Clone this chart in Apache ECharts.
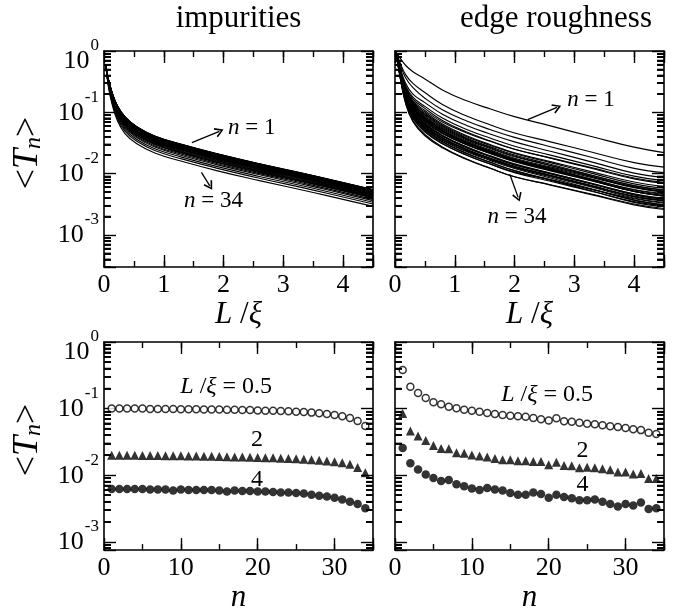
<!DOCTYPE html>
<html>
<head>
<meta charset="utf-8">
<script src="https://cdn.jsdelivr.net/npm/echarts@6/dist/echarts.min.js"></script>
<style>
  html, body { margin: 0; padding: 0; background: #fff; }
  #chart { width: 696px; height: 614px; }
</style>
</head>
<body>
<div id="chart"></div>
<script>
// ---- length grid of the transmission curves (L / xi) ----
const impL = [0.03, 0.07, 0.13, 0.22, 0.35, 0.55, 0.85, 1.3, 1.9, 2.6, 3.5, 4.5];
const roughL = [0.02, 0.08, 0.18, 0.3, 0.5, 0.8, 1.2, 1.6, 2.0, 2.6, 3.3, 4.0, 4.5];

// <T_n>(L) for the impurity wire, one row per channel n = 1 ... 34
const impT = [
  [0.600, 0.360, 0.220, 0.130, 0.0850, 0.0580, 0.0410, 0.0300, 0.0210, 0.0145, 0.00930, 0.00550],
  [0.600, 0.358, 0.218, 0.129, 0.0842, 0.0574, 0.0406, 0.0297, 0.0208, 0.0144, 0.00920, 0.00545],
  [0.600, 0.358, 0.218, 0.129, 0.0841, 0.0575, 0.0405, 0.0297, 0.0208, 0.0143, 0.00920, 0.00544],
  [0.600, 0.356, 0.217, 0.128, 0.0833, 0.0568, 0.0402, 0.0294, 0.0206, 0.0142, 0.00910, 0.00539],
  [0.600, 0.356, 0.217, 0.128, 0.0834, 0.0569, 0.0401, 0.0294, 0.0205, 0.0142, 0.00910, 0.00540],
  [0.600, 0.355, 0.215, 0.127, 0.0825, 0.0563, 0.0398, 0.0291, 0.0204, 0.0141, 0.00900, 0.00534],
  [0.600, 0.354, 0.215, 0.126, 0.0824, 0.0562, 0.0398, 0.0291, 0.0203, 0.0141, 0.00900, 0.00533],
  [0.600, 0.353, 0.213, 0.125, 0.0816, 0.0557, 0.0394, 0.0288, 0.0202, 0.0139, 0.00890, 0.00528],
  [0.600, 0.351, 0.212, 0.124, 0.0808, 0.0551, 0.0390, 0.0285, 0.0200, 0.0138, 0.00884, 0.00523],
  [0.600, 0.351, 0.212, 0.124, 0.0807, 0.0552, 0.0389, 0.0285, 0.0199, 0.0138, 0.00883, 0.00522],
  [0.600, 0.349, 0.210, 0.123, 0.0799, 0.0545, 0.0385, 0.0282, 0.0197, 0.0136, 0.00874, 0.00517],
  [0.600, 0.349, 0.210, 0.123, 0.0798, 0.0546, 0.0386, 0.0282, 0.0198, 0.0136, 0.00875, 0.00516],
  [0.600, 0.347, 0.208, 0.122, 0.0790, 0.0539, 0.0381, 0.0279, 0.0195, 0.0135, 0.00865, 0.00512],
  [0.600, 0.346, 0.207, 0.121, 0.0782, 0.0534, 0.0377, 0.0276, 0.0193, 0.0133, 0.00856, 0.00506],
  [0.600, 0.344, 0.205, 0.119, 0.0774, 0.0528, 0.0373, 0.0273, 0.0191, 0.0132, 0.00846, 0.00501],
  [0.600, 0.342, 0.204, 0.118, 0.0765, 0.0522, 0.0369, 0.0270, 0.0189, 0.0131, 0.00837, 0.00495],
  [0.600, 0.340, 0.202, 0.117, 0.0757, 0.0516, 0.0365, 0.0267, 0.0187, 0.0129, 0.00828, 0.00490],
  [0.600, 0.338, 0.200, 0.116, 0.0748, 0.0510, 0.0361, 0.0264, 0.0185, 0.0128, 0.00818, 0.00484],
  [0.600, 0.337, 0.199, 0.115, 0.0740, 0.0505, 0.0357, 0.0261, 0.0183, 0.0126, 0.00809, 0.00479],
  [0.600, 0.335, 0.197, 0.114, 0.0731, 0.0499, 0.0353, 0.0258, 0.0181, 0.0125, 0.00800, 0.00473],
  [0.600, 0.333, 0.195, 0.113, 0.0723, 0.0493, 0.0349, 0.0255, 0.0179, 0.0123, 0.00790, 0.00468],
  [0.600, 0.331, 0.194, 0.111, 0.0714, 0.0487, 0.0344, 0.0252, 0.0176, 0.0122, 0.00781, 0.00462],
  [0.600, 0.329, 0.192, 0.110, 0.0706, 0.0481, 0.0340, 0.0249, 0.0174, 0.0120, 0.00772, 0.00457],
  [0.600, 0.328, 0.190, 0.109, 0.0697, 0.0476, 0.0336, 0.0246, 0.0172, 0.0119, 0.00763, 0.00451],
  [0.600, 0.324, 0.187, 0.107, 0.0680, 0.0464, 0.0328, 0.0240, 0.0168, 0.0116, 0.00744, 0.00440],
  [0.600, 0.320, 0.184, 0.104, 0.0663, 0.0452, 0.0320, 0.0234, 0.0164, 0.0113, 0.00725, 0.00429],
  [0.600, 0.317, 0.180, 0.102, 0.0646, 0.0441, 0.0312, 0.0228, 0.0160, 0.0110, 0.00707, 0.00418],
  [0.600, 0.313, 0.177, 0.0996, 0.0629, 0.0429, 0.0303, 0.0222, 0.0155, 0.0107, 0.00688, 0.00407],
  [0.600, 0.310, 0.174, 0.0972, 0.0612, 0.0418, 0.0295, 0.0216, 0.0151, 0.0104, 0.00670, 0.00396],
  [0.600, 0.304, 0.169, 0.0937, 0.0587, 0.0400, 0.0283, 0.0207, 0.0145, 0.0100, 0.00642, 0.00380],
  [0.600, 0.299, 0.164, 0.0902, 0.0561, 0.0383, 0.0271, 0.0198, 0.0139, 0.00957, 0.00614, 0.00363],
  [0.600, 0.292, 0.157, 0.0855, 0.0527, 0.0360, 0.0254, 0.0186, 0.0130, 0.00899, 0.00577, 0.00341],
  [0.600, 0.284, 0.151, 0.0809, 0.0493, 0.0336, 0.0238, 0.0174, 0.0122, 0.00841, 0.00539, 0.00319],
  [0.600, 0.275, 0.142, 0.0750, 0.0450, 0.0307, 0.0217, 0.0159, 0.0111, 0.00769, 0.00493, 0.00292]
];

// <T_n>(L) for the wire with rough edges, one row per channel n = 1 ... 34
const roughT = [
  [0.95, 0.78, 0.58, 0.46, 0.35, 0.23, 0.154, 0.113, 0.085, 0.060, 0.040, 0.027, 0.022],
  [0.95, 0.662, 0.408, 0.297, 0.21, 0.133, 0.087, 0.062, 0.046, 0.033, 0.0223, 0.0151, 0.0128],
  [0.95, 0.629, 0.362, 0.252, 0.17, 0.109, 0.072, 0.052, 0.039, 0.0275, 0.0183, 0.0122, 0.0104],
  [0.95, 0.560, 0.295, 0.198, 0.144, 0.0925, 0.061, 0.044, 0.033, 0.0232, 0.0154, 0.0102, 0.0087],
  [0.95, 0.538, 0.270, 0.177, 0.125, 0.080, 0.0525, 0.0378, 0.028, 0.020, 0.0135, 0.0091, 0.0077],
  [0.95, 0.527, 0.258, 0.166, 0.116, 0.073, 0.0476, 0.034, 0.025, 0.0179, 0.0121, 0.0082, 0.0070],
  [0.95, 0.515, 0.245, 0.155, 0.107, 0.069, 0.046, 0.0334, 0.025, 0.0181, 0.0124, 0.0085, 0.0072],
  [0.95, 0.507, 0.237, 0.148, 0.101, 0.0637, 0.0415, 0.0296, 0.0218, 0.0157, 0.0107, 0.0073, 0.0062],
  [0.95, 0.500, 0.229, 0.142, 0.096, 0.061, 0.040, 0.0288, 0.0213, 0.0151, 0.0101, 0.0068, 0.0058],
  [0.95, 0.495, 0.224, 0.137, 0.0925, 0.0585, 0.0381, 0.0273, 0.0201, 0.0142, 0.0094, 0.0063, 0.0054],
  [0.95, 0.491, 0.220, 0.134, 0.0895, 0.0566, 0.0369, 0.0264, 0.0194, 0.0136, 0.0090, 0.0060, 0.0051],
  [0.95, 0.484, 0.213, 0.129, 0.0856, 0.0543, 0.0355, 0.0255, 0.0188, 0.0136, 0.0093, 0.0064, 0.0054],
  [0.95, 0.480, 0.209, 0.125, 0.0828, 0.0522, 0.034, 0.0242, 0.0178, 0.0129, 0.0089, 0.0061, 0.0052],
  [0.95, 0.475, 0.205, 0.122, 0.080, 0.0504, 0.0327, 0.0233, 0.0171, 0.0124, 0.0086, 0.0059, 0.0050],
  [0.95, 0.472, 0.202, 0.119, 0.078, 0.0494, 0.0324, 0.0232, 0.0171, 0.0121, 0.0081, 0.0054, 0.0046],
  [0.95, 0.470, 0.1995, 0.1175, 0.0766, 0.0483, 0.0315, 0.0224, 0.0165, 0.0116, 0.0077, 0.0051, 0.0043],
  [0.95, 0.468, 0.198, 0.1164, 0.0757, 0.0480, 0.0313, 0.0223, 0.0165, 0.0117, 0.0078, 0.0051, 0.0044],
  [0.95, 0.462, 0.193, 0.112, 0.0724, 0.046, 0.0302, 0.0216, 0.016, 0.0116, 0.0080, 0.0055, 0.0047],
  [0.95, 0.457, 0.1875, 0.108, 0.0693, 0.0447, 0.0296, 0.0214, 0.016, 0.0114, 0.0077, 0.0052, 0.0044],
  [0.95, 0.451, 0.1824, 0.1045, 0.0663, 0.042, 0.0274, 0.0195, 0.0144, 0.0102, 0.0069, 0.0046, 0.0039],
  [0.95, 0.461, 0.191, 0.111, 0.0716, 0.0453, 0.0296, 0.0211, 0.0156, 0.0111, 0.0076, 0.0051, 0.0043],
  [0.95, 0.449, 0.180, 0.1023, 0.0648, 0.0409, 0.0267, 0.019, 0.014, 0.0101, 0.0069, 0.0047, 0.0040],
  [0.95, 0.446, 0.1774, 0.1005, 0.0634, 0.0402, 0.0263, 0.0188, 0.0139, 0.0099, 0.0067, 0.0045, 0.0038],
  [0.95, 0.4415, 0.1738, 0.0975, 0.0613, 0.0384, 0.0248, 0.0176, 0.0129, 0.0092, 0.0062, 0.0042, 0.0036],
  [0.95, 0.4375, 0.170, 0.0950, 0.0593, 0.0378, 0.0248, 0.0178, 0.0132, 0.0094, 0.0063, 0.0042, 0.0036],
  [0.95, 0.4345, 0.168, 0.0933, 0.058, 0.0369, 0.0243, 0.0174, 0.0129, 0.0093, 0.0063, 0.0043, 0.0037],
  [0.95, 0.4305, 0.1644, 0.0908, 0.0561, 0.0357, 0.0235, 0.0169, 0.0125, 0.0089, 0.0060, 0.0040, 0.0034],
  [0.95, 0.4265, 0.161, 0.0881, 0.0542, 0.0346, 0.0227, 0.0163, 0.0121, 0.0085, 0.0056, 0.0037, 0.0031],
  [0.95, 0.4236, 0.159, 0.0865, 0.053, 0.0332, 0.0215, 0.0153, 0.0112, 0.0078, 0.0052, 0.0034, 0.0029],
  [0.95, 0.4198, 0.1556, 0.0843, 0.0513, 0.0325, 0.0212, 0.0152, 0.0112, 0.0080, 0.0055, 0.0037, 0.0031],
  [0.95, 0.414, 0.151, 0.0811, 0.049, 0.0308, 0.020, 0.0142, 0.0104, 0.0075, 0.0051, 0.0035, 0.0030],
  [0.95, 0.411, 0.148, 0.0791, 0.0475, 0.0303, 0.0199, 0.0143, 0.0106, 0.0079, 0.0055, 0.0039, 0.0033],
  [0.95, 0.401, 0.140, 0.0733, 0.0434, 0.027, 0.0173, 0.0122, 0.0089, 0.0065, 0.0045, 0.0031, 0.0026],
  [0.95, 0.395, 0.1365, 0.0706, 0.0415, 0.0261, 0.017, 0.0121, 0.0089, 0.0066, 0.0046, 0.0032, 0.0027]
];

// channel index n
const channels = [1, 2, 3, 4, 5, 6, 7, 8, 9, 10, 11, 12, 13, 14, 15, 16, 17,
                  18, 19, 20, 21, 22, 23, 24, 25, 26, 27, 28, 29, 30, 31, 32, 33, 34];

// <T_n> versus n at fixed length, impurities
const impAt05 = [0.100, 0.100, 0.100, 0.100, 0.100, 0.099, 0.099, 0.099, 0.099, 0.098, 0.098, 0.098,
                 0.097, 0.097, 0.097, 0.096, 0.096, 0.095, 0.095, 0.094, 0.093, 0.093, 0.092, 0.091,
                 0.090, 0.089, 0.087, 0.085, 0.083, 0.080, 0.077, 0.072, 0.065, 0.055];
const impAt2 = [0.0200, 0.0200, 0.0199, 0.0199, 0.0198, 0.0197, 0.0197, 0.0196, 0.0195, 0.0195, 0.0194,
                0.0194, 0.0193, 0.0192, 0.0190, 0.0189, 0.0188, 0.0187, 0.0186, 0.0185, 0.0183, 0.0182,
                0.0180, 0.0178, 0.0176, 0.0173, 0.0171, 0.0167, 0.0163, 0.0159, 0.0154, 0.0146, 0.0130, 0.0109];
const impAt4 = [0.0062, 0.0062, 0.0062, 0.0062, 0.0062, 0.0061, 0.0061, 0.0061, 0.0059, 0.0061, 0.0060,
                0.0060, 0.0060, 0.0060, 0.0059, 0.0057, 0.0059, 0.0058, 0.0058, 0.0057, 0.0057, 0.0056,
                0.0055, 0.0055, 0.0054, 0.0053, 0.0051, 0.0049, 0.0048, 0.0046, 0.0043, 0.0040, 0.0037, 0.0032];

// <T_n> versus n at fixed length, edge roughness
const roughAt05 = [0.38, 0.213, 0.171, 0.144, 0.125, 0.116, 0.107, 0.101, 0.096, 0.0925, 0.0895, 0.0856,
                   0.0828, 0.080, 0.078, 0.0766, 0.0757, 0.0724, 0.0693, 0.0663, 0.0716, 0.0648, 0.0634,
                   0.0613, 0.0593, 0.058, 0.0561, 0.0542, 0.053, 0.0513, 0.049, 0.0475, 0.0434, 0.0415];
const roughAt2 = [0.0847, 0.0459, 0.0389, 0.0333, 0.0278, 0.0252, 0.025, 0.0218, 0.0213, 0.0201, 0.0194,
                  0.0188, 0.0178, 0.0171, 0.0171, 0.0165, 0.0165, 0.016, 0.016, 0.0144, 0.0156, 0.014,
                  0.0139, 0.0129, 0.0132, 0.0129, 0.0125, 0.0121, 0.0112, 0.0112, 0.0104, 0.0106, 0.0089, 0.0089];
const roughAt4 = [0.0257, 0.0151, 0.0122, 0.0102, 0.0091, 0.0082, 0.0085, 0.0073, 0.0068, 0.0063, 0.006,
                  0.0064, 0.0061, 0.0059, 0.0054, 0.0051, 0.0051, 0.0055, 0.0052, 0.0046, 0.0051, 0.0047,
                  0.0045, 0.0042, 0.0042, 0.0043, 0.004, 0.0037, 0.0034, 0.0037, 0.0035, 0.0039, 0.0031, 0.0032];

// log-axis minor tick mantissas
const minorMantissas = [2, 3, 4, 5, 6, 7, 8, 9];

// ---------------------------------------------------------------------------
const serif = 'Liberation Serif';
const black = '#000';

const grids = [
  { left: 104, top: 51, width: 269, height: 216 },
  { left: 395, top: 51, width: 269, height: 216 },
  { left: 104, top: 342, width: 269, height: 216 },
  { left: 395, top: 342, width: 269, height: 216 }
];

const panelYMin = [3e-4, 3e-4, 7.5e-4, 7.5e-4];
const panelXMax = [4.5, 4.5, 35, 35];

function powerLabel(v) {
  const e = Math.log10(v);
  const r = Math.round(e);
  if (Math.abs(e - r) > 1e-6) return '';
  return r === 0 ? '{b0|10}{s0|0}' : '{b|10}{s|' + r + '}';
}

function powerRich() {
  return {
    b:  { fontFamily: serif, fontSize: 26, color: black, verticalAlign: 'bottom', padding: [0, 0, 10, 0] },
    s:  { fontFamily: serif, fontSize: 17, color: black, verticalAlign: 'bottom', padding: [0, 0, 30, 1] },
    b0: { fontFamily: serif, fontSize: 26, color: black, verticalAlign: 'bottom', padding: [0, 0, 0, 0] },
    s0: { fontFamily: serif, fontSize: 17, color: black, verticalAlign: 'bottom', padding: [10, 0, 20, 1] }
  };
}

function xAxisSet(gi, max, major, minor, name) {
  const mk = (extra) => Object.assign({
    type: 'value', gridIndex: gi, min: 0, max: max,
    splitLine: { show: false }
  }, extra);
  return [
    mk({
      position: 'bottom', interval: major,
      axisLine: { show: true, onZero: false, lineStyle: { color: black, width: 1.6 } },
      axisTick: { show: true, inside: true, length: 12, lineStyle: { color: black, width: 1.4 } },
      axisLabel: {
        show: true, color: black, fontFamily: serif, fontSize: 26, margin: 5,
        formatter: v => (Math.abs(v / major - Math.round(v / major)) < 1e-9 ? String(v) : '')
      },
      name: name, nameLocation: 'middle', nameGap: max > 10 ? 27 : 31,
      nameTextStyle: {
        fontFamily: serif, fontSize: 31, color: black,
        rich: { i: { fontFamily: serif, fontStyle: 'italic', fontSize: 31, color: black },
                u: { fontFamily: serif, fontSize: 31, color: black } }
      }
    }),
    mk({
      position: 'bottom', interval: minor,
      axisLine: { show: false },
      axisTick: { show: true, inside: true, length: 6, lineStyle: { color: black, width: 1.4 } },
      axisLabel: { show: false }
    }),
    mk({
      position: 'top', interval: major,
      axisLine: { show: true, onZero: false, lineStyle: { color: black, width: 1.6 } },
      axisTick: { show: true, inside: true, length: 12, lineStyle: { color: black, width: 1.4 } },
      axisLabel: { show: false }
    }),
    mk({
      position: 'top', interval: minor,
      axisLine: { show: false },
      axisTick: { show: true, inside: true, length: 6, lineStyle: { color: black, width: 1.4 } },
      axisLabel: { show: false }
    })
  ];
}

function yAxisSet(gi, withLabels) {
  const mk = (extra) => Object.assign({
    type: 'log', logBase: 10, gridIndex: gi, min: panelYMin[gi], max: 1,
    splitLine: { show: false },
    axisLine: { show: true, onZero: false, lineStyle: { color: black, width: 1.6 } },
    axisTick: { show: true, inside: true, length: 12, lineStyle: { color: black, width: 1.4 } },
    // nine linear sub-steps per decade give the 2..9 minor ticks
    minorTick: { show: true, splitNumber: 9, length: 7, lineStyle: { color: black, width: 1.5 } }
  }, extra);
  return [
    mk({
      position: 'left',
      axisLabel: { show: withLabels, formatter: powerLabel, rich: powerRich(), margin: 5 },
      name: withLabels ? '<{i|T}{sub|n}>' : '',
      nameLocation: 'middle', nameRotate: 90, nameGap: 58,
      nameTextStyle: {
        fontFamily: serif, fontSize: 36, color: black, padding: [0, 0, 0, 12],
        rich: {
          i: { fontFamily: serif, fontStyle: 'italic', fontSize: 36, color: black },
          sub: { fontFamily: serif, fontStyle: 'italic', fontSize: 24, color: black, verticalAlign: 'bottom' }
        }
      }
    }),
    mk({ position: 'right', axisLabel: { show: false } })
  ];
}

const xAxes = [].concat(
  xAxisSet(0, 4.5, 1, 0.5, '{i|L} /{i|ξ}'),
  xAxisSet(1, 4.5, 1, 0.5, '{i|L} /{i|ξ}'),
  xAxisSet(2, 35, 10, 5, '{i|n}'),
  xAxisSet(3, 35, 10, 5, '{i|n}')
);
const yAxes = [].concat(yAxisSet(0, true), yAxisSet(1, false), yAxisSet(2, true), yAxisSet(3, false));

function minorValues(gi) {
  const vals = [];
  for (let e = -4; e < 0; e++) {
    minorMantissas.forEach(m => {
      const v = m * Math.pow(10, e);
      if (v > panelYMin[gi] && v < 1) vals.push(v);
    });
  }
  return vals;
}

// the same minor ticks as short segments on both vertical frame edges
function minorTickMarks(gi) {
  const xMax = panelXMax[gi];
  const dx = xMax * 7 / grids[gi].width;
  const segs = [];
  minorValues(gi).forEach(v => {
    segs.push([{ coord: [0, v] }, { coord: [dx, v] }]);
    segs.push([{ coord: [xMax - dx, v] }, { coord: [xMax, v] }]);
  });
  return {
    silent: true, animation: false, symbol: ['none', 'none'],
    lineStyle: { color: black, width: 1.5, type: 'solid' },
    label: { show: false }, emphasis: { disabled: true },
    data: segs
  };
}

const chevron = 'path://M5,0 L10,9 L8.6,10 L5,3.2 L1.4,10 L0,9 Z';

function arrowMarks(arrows) {
  return {
    silent: true, animation: false,
    symbol: ['none', chevron], symbolSize: [10, 9],
    lineStyle: { color: black, width: 1.3, type: 'solid' },
    label: { show: false },
    data: arrows.map(a => [{ coord: a[0] }, { coord: a[1] }])
  };
}

function textMarks(items, size) {
  return {
    silent: true, animation: false,
    symbol: 'circle', symbolSize: 1, itemStyle: { color: 'rgba(0,0,0,0)' },
    label: {
      show: true, position: 'inside', color: black, fontFamily: serif, fontSize: size,
      rich: { i: { fontFamily: serif, fontStyle: 'italic', fontSize: size, color: black },
              u: { fontFamily: serif, fontSize: size, color: black } }
    },
    data: items.map(t => ({ coord: t.at, value: 0, label: { formatter: t.text } }))
  };
}

const series = [];

function curveSeries(gi, Ls, table, marks) {
  table.forEach((row, k) => {
    const s = {
      type: 'line', name: 'n = ' + channels[k], xAxisIndex: gi * 4, yAxisIndex: gi * 2,
      data: Ls.map((L, i) => [L, row[i]]),
      showSymbol: false, smooth: 0.45,
      lineStyle: { color: black, width: 1.15 },
      silent: true, z: 2
    };
    if (k === 0) { s.markLine = marks.lines; s.markPoint = marks.texts; }
    if (k === 1) { s.markLine = minorTickMarks(gi); }
    series.push(s);
  });
}

curveSeries(0, impL, impT, {
  lines: arrowMarks([[[1.47, 0.032], [1.93, 0.049]], [[1.63, 0.0105], [1.77, 0.0063]]]),
  texts: textMarks([{ at: [2.47, 0.056], text: '{i|n}{u| = 1}' },
                    { at: [1.83, 0.0036], text: '{i|n}{u| = 34}' }], 23)
});
curveSeries(1, roughL, roughT, {
  lines: arrowMarks([[[2.22, 0.076], [2.71, 0.12]], [[1.92, 0.0098], [2.06, 0.0041]]]),
  texts: textMarks([{ at: [3.28, 0.16], text: '{i|n}{u| = 1}' },
                    { at: [2.04, 0.002], text: '{i|n}{u| = 34}' }], 23)
});

function pointSeries(gi, values, kind, marks, ticks) {
  const styleByKind = {
    open:     { symbol: 'circle', symbolSize: 7, itemStyle: { color: '#fff', borderColor: black, borderWidth: 1.5 } },
    triangle: { symbol: 'triangle', symbolSize: 9, itemStyle: { color: black } },
    disc:     { symbol: 'circle', symbolSize: 8.5, itemStyle: { color: black } }
  };
  const s = Object.assign({
    type: 'scatter', xAxisIndex: gi * 4, yAxisIndex: gi * 2,
    data: channels.map((n, i) => [n, values[i]]),
    silent: true, z: 3
  }, styleByKind[kind]);
  if (marks) s.markPoint = marks;
  if (ticks) s.markLine = minorTickMarks(gi);
  series.push(s);
}

pointSeries(2, impAt05, 'open', textMarks([
  { at: [15.9, 0.215], text: '{i|L}{u| /}{i|ξ}{u| = 0.5}' },
  { at: [19.9, 0.034], text: '{u|2}' },
  { at: [19.9, 0.0085], text: '{u|4}' }], 24));
pointSeries(2, impAt2, 'triangle', null, true);
pointSeries(2, impAt4, 'disc');

pointSeries(3, roughAt05, 'open', textMarks([
  { at: [19.8, 0.16], text: '{i|L}{u| /}{i|ξ}{u| = 0.5}' },
  { at: [24.4, 0.023], text: '{u|2}' },
  { at: [24.4, 0.0072], text: '{u|4}' }], 24));
pointSeries(3, roughAt2, 'triangle', null, true);
pointSeries(3, roughAt4, 'disc');

const chart = echarts.init(document.getElementById('chart'), null, { renderer: 'canvas' });
chart.setOption({
  backgroundColor: '#fff',
  animation: false,
  grid: grids,
  xAxis: xAxes,
  yAxis: yAxes,
  series: series
});

// titles, plus minor ticks placed through each y axis' own conversion
const overlay = [
  { type: 'text', x: 238.5, y: 3, silent: true, z: 100,
    style: { text: 'impurities', font: '31px "Liberation Serif"', fill: black, align: 'center', verticalAlign: 'top' } },
  { type: 'text', x: 556, y: 3, silent: true, z: 100,
    style: { text: 'edge roughness', font: '31px "Liberation Serif"', fill: black, align: 'center', verticalAlign: 'top' } }
];
grids.forEach((g, gi) => {
  minorValues(gi).forEach(v => {
    let y = chart.convertToPixel({ yAxisIndex: gi * 2 }, v);
    if (Array.isArray(y)) y = y[1];
    if (typeof y !== 'number' || !isFinite(y)) {
      const p = chart.convertToPixel({ xAxisIndex: gi * 4, yAxisIndex: gi * 2 }, [0, v]);
      y = p && p[1];
    }
    if (typeof y !== 'number' || !isFinite(y)) return;
    const st = { stroke: black, lineWidth: 1.5 };
    overlay.push({ type: 'line', silent: true, z: 100,
      shape: { x1: g.left, y1: y, x2: g.left + 7, y2: y }, style: st });
    overlay.push({ type: 'line', silent: true, z: 100,
      shape: { x1: g.left + g.width, y1: y, x2: g.left + g.width - 7, y2: y }, style: st });
  });
});
chart.setOption({ graphic: overlay });
</script>
</body>
</html>
